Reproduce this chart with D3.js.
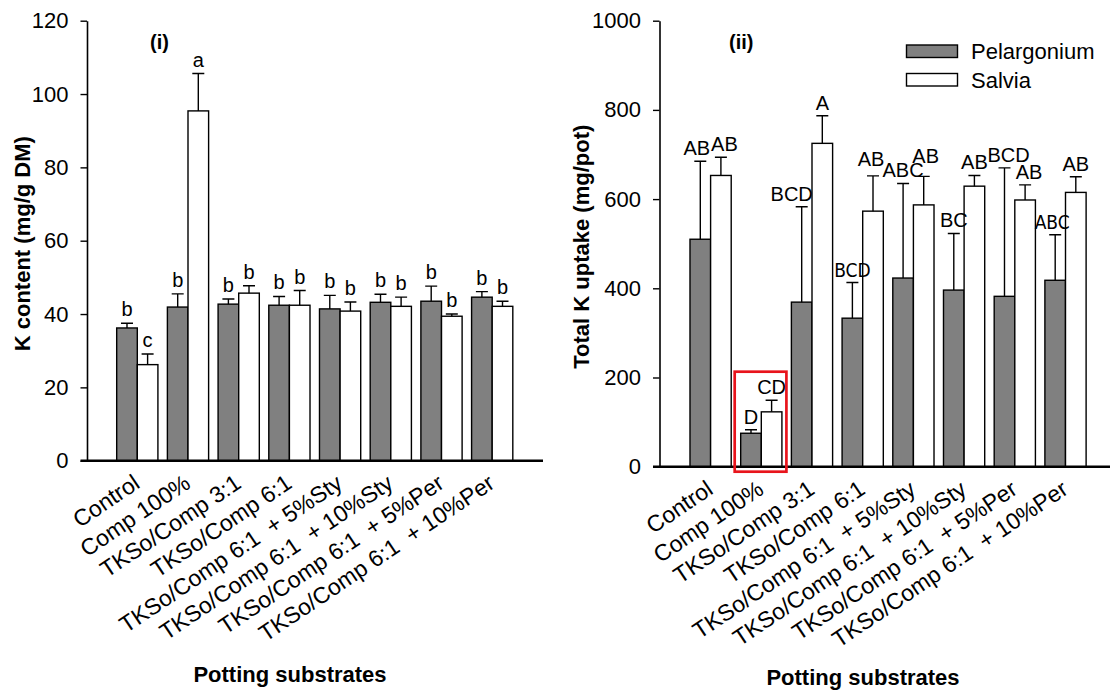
<!DOCTYPE html>
<html>
<head>
<meta charset="utf-8">
<script src="https://cdn.jsdelivr.net/npm/d3@7"></script>
<style>
  body { margin: 0; background: #fff; }
  text { font-family: "Liberation Sans", Arial, Helvetica, sans-serif; fill: #000; }
</style>
</head>
<body>
<svg id="fig" width="1110" height="692"></svg>
<script>
// Potting substrates and the two species
const substrates = [
  "Control", "Comp 100%", "TKSo/Comp 3:1", "TKSo/Comp 6:1",
  "TKSo/Comp 6:1  + 5%Sty", "TKSo/Comp 6:1  + 10%Sty",
  "TKSo/Comp 6:1  + 5%Per", "TKSo/Comp 6:1  + 10%Per"
];
const species = ["Pelargonium", "Salvia"];

// (i) K content, mg/g DM (mean, SE, significance letter)
const kContentPel       = [36.2, 41.9, 42.7, 42.4, 41.4, 43.2, 43.5, 44.6];
const kContentPelErr    = [1.3, 3.6, 1.4, 2.4, 3.7, 2.2, 4.1, 1.5];
const kContentPelLetter = ["b", "b", "b", "b", "b", "b", "b", "b"];
const kContentSal       = [26.2, 95.4, 45.7, 42.4, 40.8, 42.1, 39.4, 42.1];
const kContentSalErr    = [2.9, 10.2, 2.0, 4.0, 2.5, 2.5, 0.6, 1.4];
const kContentSalLetter = ["c", "a", "b", "b", "b", "b", "b", "b"];

// (ii) Total K uptake, mg/pot
const kUptakePel       = [510, 75, 369, 333, 423, 396, 382, 418];
const kUptakePelErr    = [175, 8, 214, 80, 212, 127, 288, 102];
const kUptakePelLetter = ["AB", "D", "BCD", "BCD", "ABC", "BC", "BCD", "ABC"];
const kUptakeSal       = [653, 123, 725, 573, 587, 629, 598, 615];
const kUptakeSalErr    = [41, 26, 62, 79, 64, 24, 34, 35];
const kUptakeSalLetter = ["AB", "CD", "A", "AB", "AB", "AB", "AB", "AB"];

// Axis ticks
const contentTicks = [0, 20, 40, 60, 80, 100, 120];
const uptakeTicks  = [0, 200, 400, 600, 800, 1000];

const svg = d3.select("#fig");
const fills = { Pelargonium: "#808080", Salvia: "#ffffff" };
const TICK = 6.5;

function rows(mean, err, letter) {
  return substrates.map((s, i) => ({ s, i, mean: mean[i], err: err[i], letter: letter[i] }));
}

function drawPanel(p) {
  const g = svg.append("g");
  const y = d3.scaleLinear().domain(p.yDomain).range([p.yBottom, p.yTop]);
  const x = d3.scaleBand().domain(substrates).range(p.groupRange)
    .paddingInner(0.187).paddingOuter(0.0935);
  const xs = d3.scaleBand().domain(species).range([0, x.bandwidth()]).padding(0);

  const series = [
    { sp: "Pelargonium", data: rows(p.pel, p.pelErr, p.pelLetter) },
    { sp: "Salvia", data: rows(p.sal, p.salErr, p.salLetter) }
  ];

  const barLayer = g.append("g");
  const letterLayer = g.append("g");

  series.forEach((ser, k) => {
    const sg = barLayer.append("g");
    const cx = d => x(d.s) + xs(ser.sp) + xs.bandwidth() / 2;
    const nudge = d => p.nudge[k + "-" + d.i] || [0, 0];
    const isNarrow = d => p.narrow.has(k + "-" + d.i);

    // bars
    sg.selectAll("rect").data(ser.data).join("rect")
      .attr("x", d => x(d.s) + xs(ser.sp))
      .attr("y", d => y(d.mean))
      .attr("width", xs.bandwidth())
      .attr("height", d => y(0) - y(d.mean))
      .attr("fill", fills[ser.sp])
      .attr("stroke", "#000")
      .attr("stroke-width", 1.4);

    // upper error whiskers with caps
    sg.selectAll("path.err").data(ser.data).join("path")
      .attr("class", "err")
      .attr("d", d => {
        const c = cx(d), t = y(d.mean + d.err);
        return `M${c},${y(d.mean)}V${t}M${c - 6},${t}H${c + 6}`;
      })
      .attr("fill", "none").attr("stroke", "#000").attr("stroke-width", 1.4);

    // significance letters, drawn above all bars
    letterLayer.append("g").selectAll("text").data(ser.data).join("text")
      .attr("x", d => cx(d) + nudge(d)[0])
      .attr("y", d => y(d.mean + d.err) - p.letterGap + nudge(d)[1])
      .attr("text-anchor", "middle")
      .style("font-size", d => isNarrow(d) ? "19px" : "20px")
      .style("font-family", d => isNarrow(d)
        ? '"Liberation Sans Narrow", "DejaVu Sans Condensed", sans-serif' : null)
      .text(d => d.letter);
  });

  // y axis
  const ya = g.append("g").attr("transform", `translate(${p.axisX},0)`)
    .call(d3.axisLeft(y).tickValues(p.ticks).tickFormat(d3.format("d"))
      .tickSize(TICK).tickSizeOuter(0).tickPadding(12));
  ya.select(".domain").attr("stroke", "#000").attr("stroke-width", 1.6);
  ya.selectAll(".tick line").attr("stroke", "#000").attr("stroke-width", 1.4);
  ya.selectAll(".tick text").style("font-size", "22px").style("font-family", null);

  // x axis with rotated substrate labels
  const xa = g.append("g").attr("transform", `translate(0,${y(0)})`)
    .call(d3.axisBottom(x).tickSize(0).tickSizeOuter(0));
  xa.select(".domain").remove();
  xa.selectAll(".tick text")
    .attr("x", 0).attr("y", 0).attr("dy", null)
    .attr("text-anchor", "end")
    .attr("transform", "translate(4,26) rotate(-34)")
    .style("white-space", "pre")
    .style("font-size", "23px").style("font-family", null);
  g.append("line")
    .attr("x1", p.axisX - TICK).attr("x2", p.axisEnd)
    .attr("y1", y(0)).attr("y2", y(0))
    .attr("stroke", "#000").attr("stroke-width", 2.4);

  // axis titles
  g.append("text")
    .attr("transform", `translate(${p.yTitleX},${(p.yTop + p.yBottom) / 2 + 3}) rotate(-90)`)
    .attr("text-anchor", "middle")
    .style("font-size", "22px").style("font-weight", "bold")
    .text(p.yTitle);
  g.append("text")
    .attr("x", p.xTitleX).attr("y", p.xTitleY)
    .attr("text-anchor", "middle")
    .style("font-size", "22px").style("font-weight", "bold")
    .text("Potting substrates");

  // panel tag
  g.append("text")
    .attr("x", p.tagX).attr("y", 49)
    .style("font-size", "20px").style("font-weight", "bold")
    .text(p.tag);

  return { g, x, y };
}

// (i) K content
drawPanel({
  yDomain: [0, 120], yTop: 20.7, yBottom: 460.7, ticks: contentTicks,
  axisX: 87, axisEnd: 543, groupRange: [111.95, 517.55],
  pel: kContentPel, pelErr: kContentPelErr, pelLetter: kContentPelLetter,
  sal: kContentSal, salErr: kContentSalErr, salLetter: kContentSalLetter,
  letterGap: 7, nudge: {}, narrow: new Set(),
  yTitle: "K content (mg/g DM)", yTitleX: 30,
  xTitleX: 290, xTitleY: 682, tag: "(i)", tagX: 150
});

// (ii) Total K uptake
const right = drawPanel({
  yDomain: [0, 1000], yTop: 20.7, yBottom: 466.7, ticks: uptakeTicks,
  axisX: 659.5, axisEnd: 1116, groupRange: [685.25, 1090.85],
  pel: kUptakePel, pelErr: kUptakePelErr, pelLetter: kUptakePelLetter,
  sal: kUptakeSal, salErr: kUptakeSalErr, salLetter: kUptakeSalLetter,
  letterGap: 6,
  nudge: { "0-0": [-3.5, 0], "1-0": [3.5, 0], "0-2": [-10, 0], "1-3": [-2, -4],
           "1-4": [2, -7], "0-6": [4, 0], "1-6": [4, 0], "0-7": [-3, 0] },
  narrow: new Set(["0-3", "0-7"]),
  yTitle: "Total K uptake (mg/pot)", yTitleX: 589,
  xTitleX: 863, xTitleY: 685, tag: "(ii)", tagX: 729
});

// highlight around the Comp 100% pair
{
  const { g, x, y } = right;
  const s = "Comp 100%";
  g.append("rect")
    .attr("x", x(s) - 6).attr("y", y(213))
    .attr("width", x.bandwidth() + 10.5).attr("height", y(0) + 5 - y(213))
    .attr("fill", "none").attr("stroke", "#e8141c").attr("stroke-width", 2.7);
}

// legend
const legend = svg.append("g");
species.forEach((sp, i) => {
  legend.append("rect")
    .attr("x", 906.5).attr("y", 45 + i * 28.5)
    .attr("width", 51).attr("height", 12.5)
    .attr("fill", fills[sp]).attr("stroke", "#000").attr("stroke-width", 1.4);
  legend.append("text")
    .attr("x", 971).attr("y", 58.5 + i * 29)
    .style("font-size", "22px")
    .text(sp);
});
</script>
</body>
</html>
